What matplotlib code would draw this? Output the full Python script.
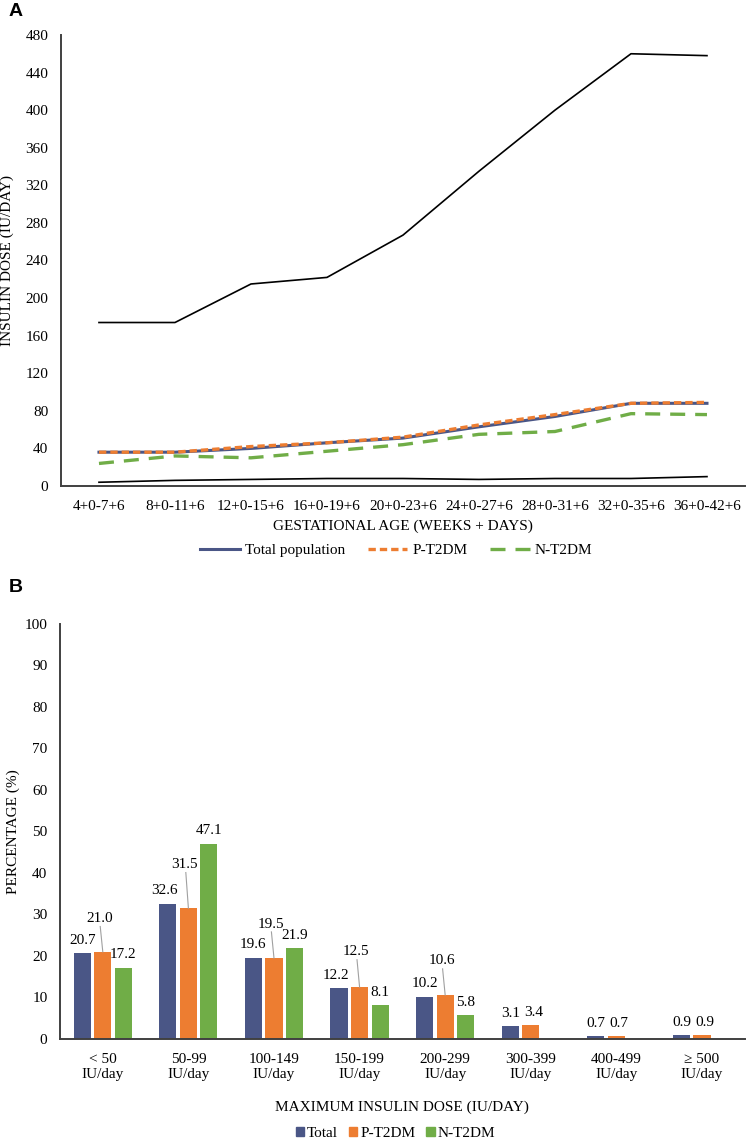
import matplotlib
matplotlib.use("Agg")
import matplotlib.pyplot as plt
from matplotlib.lines import Line2D
import numpy as np

plt.rcParams['font.family'] = ['Liberation Serif', 'DejaVu Serif']

# ---------------- Data ----------------
ages = ["4+0-7+6", "8+0-11+6", "12+0-15+6", "16+0-19+6", "20+0-23+6",
        "24+0-27+6", "28+0-31+6", "32+0-35+6", "36+0-42+6"]
max_dose = [174, 174, 215, 222, 267, 335, 400, 460, 458]
min_dose = [4, 6, 7, 8, 8, 7, 8, 8, 10]
total_pop = [36, 36, 40, 46, 51, 63, 74, 88, 88]
p_t2dm = [36, 36, 42, 46, 52, 65, 76, 88, 89]
n_t2dm = [24, 32, 30, 37, 44, 55, 58, 77, 76]

dose_cats = ["< 50\nIU/day", "50-99\nIU/day", "100-149\nIU/day", "150-199\nIU/day",
             "200-299\nIU/day", "300-399\nIU/day", "400-499\nIU/day", "\u2265 500\nIU/day"]
pct_total = [20.7, 32.6, 19.6, 12.2, 10.2, 3.1, 0.7, 0.9]
pct_p = [21.0, 31.5, 19.5, 12.5, 10.6, 3.4, 0.7, 0.9]
pct_n = [17.2, 47.1, 21.9, 8.1, 5.8, None, None, None]

# label lift for orange labels drawn with leader lines (None = plain label)
p_leader_lift = [8.0, 10.5, 8.2, 8.5, 8.2, None, None, None]

C_TOT = '#4A5686'
C_P = '#ED7D31'
C_N = '#70AD47'
SPINE = '#404040'
FS = 11

fig = plt.figure(figsize=(7.5, 11.39), dpi=100)

# ---------------- Panel A ----------------
axA = fig.add_axes([0.0813, 0.5733, 0.912, 0.396])
x = np.arange(len(ages))
axA.plot(x, max_dose, color='black', lw=1.2)
axA.plot(x, min_dose, color='black', lw=1.2)
axA.plot(x, total_pop, color=C_TOT, lw=2.2)
axA.plot(x, p_t2dm, color=C_P, lw=2.4, dashes=(2.2, 1.2))
axA.plot(x, n_t2dm, color=C_N, lw=2.4, dashes=(4.5, 3))
axA.set_xlim(-0.5, len(ages) - 0.5)
axA.set_ylim(0, 480)
axA.set_yticks(np.arange(0, 481, 40))
axA.set_xticks(x)
axA.set_xticklabels(ages)
axA.tick_params(length=0, labelsize=FS)
axA.tick_params(axis='y', pad=9)
axA.tick_params(axis='x', pad=10)
for s in ['top', 'right']:
    axA.spines[s].set_visible(False)
for s in ['left', 'bottom']:
    axA.spines[s].set_color(SPINE)
    axA.spines[s].set_linewidth(1.4)
axA.set_ylabel("INSULIN DOSE (IU/DAY)", fontsize=FS)
axA.yaxis.set_label_coords(-0.068, 0.5)
axA.set_xlabel("GESTATIONAL AGE (WEEKS + DAYS)", fontsize=FS, labelpad=5)
handlesA = [Line2D([], [], color=C_TOT, lw=2.2),
            Line2D([], [], color=C_P, lw=2.4, dashes=(2.2, 1.2)),
            Line2D([], [], color=C_N, lw=2.4, dashes=(4.5, 3))]
axA.legend(handlesA, ["Total population", "P-T2DM", "N-T2DM"], loc='center',
           bbox_to_anchor=(0.49, -0.142), ncol=3, frameon=False, fontsize=FS,
           handlelength=2.6, columnspacing=1.5, handletextpad=0.3)
fig.text(0.011, 0.9895, "A", fontsize=14, fontweight='bold',
         family='Liberation Sans', va='center', ha='left')

# ---------------- Panel B ----------------
axB = fig.add_axes([0.08, 0.0878, 0.913, 0.3644])
xb = np.arange(len(dose_cats))
bw = 0.2
step = 0.24
tot_x = xb - step
p_x = xb
n_x = xb + step
axB.bar(tot_x, pct_total, width=bw, color=C_TOT)
axB.bar(p_x, pct_p, width=bw, color=C_P)
n_mask = [v is not None for v in pct_n]
axB.bar(n_x[n_mask], [v for v in pct_n if v is not None], width=bw, color=C_N)

lift = 3.1
for i in range(len(dose_cats)):
    dx = -0.04 if i in (1, 3) else 0.0
    axB.text(tot_x[i] + dx, pct_total[i] + lift, f"{pct_total[i]:.1f}",
             ha='center', va='center', fontsize=FS)
    if p_leader_lift[i] is not None:
        yl = pct_p[i] + p_leader_lift[i]
        axB.text(p_x[i] - 0.04, yl, f"{pct_p[i]:.1f}", ha='center', va='center',
                 fontsize=FS)
        axB.plot([p_x[i] - 0.03, p_x[i]], [yl - 1.9, pct_p[i]],
                 color='#A0A0A0', lw=0.8)
    else:
        axB.text(p_x[i] + 0.03, pct_p[i] + lift, f"{pct_p[i]:.1f}",
                 ha='center', va='center', fontsize=FS)
    if pct_n[i] is not None:
        axB.text(n_x[i], pct_n[i] + lift, f"{pct_n[i]:.1f}",
                 ha='center', va='center', fontsize=FS)

axB.set_xlim(-0.5, len(dose_cats) - 0.5)
axB.set_ylim(0, 100)
axB.set_yticks(np.arange(0, 101, 10))
axB.set_xticks(xb)
axB.set_xticklabels(dose_cats, linespacing=1.25)
axB.tick_params(length=0, labelsize=FS)
axB.tick_params(axis='y', pad=9)
axB.tick_params(axis='x', pad=10)
for s in ['top', 'right']:
    axB.spines[s].set_visible(False)
for s in ['left', 'bottom']:
    axB.spines[s].set_color(SPINE)
    axB.spines[s].set_linewidth(1.4)
axB.set_ylabel("PERCENTAGE (%)", fontsize=FS)
axB.yaxis.set_label_coords(-0.058, 0.5)
axB.set_xlabel("MAXIMUM INSULIN DOSE (IU/DAY)", fontsize=FS, labelpad=14)
handlesB = [plt.Rectangle((0, 0), 1, 1, color=C_TOT),
            plt.Rectangle((0, 0), 1, 1, color=C_P),
            plt.Rectangle((0, 0), 1, 1, color=C_N)]
axB.legend(handlesB, ["Total", "P-T2DM", "N-T2DM"], loc='center',
           bbox_to_anchor=(0.49, -0.228), ncol=3, frameon=False, fontsize=FS,
           handlelength=0.55, handleheight=0.55, columnspacing=0.7, handletextpad=0.2)
fig.text(0.011, 0.4838, "B", fontsize=14, fontweight='bold',
         family='Liberation Sans', va='center', ha='left')

fig.savefig("out.png", dpi=100)
